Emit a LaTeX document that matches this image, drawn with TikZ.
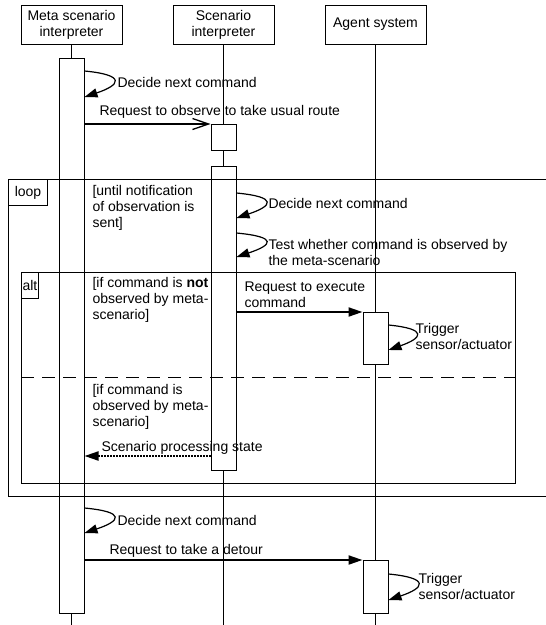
\documentclass[tikz,border=0pt]{standalone}
\usepackage{fontspec}
\setmainfont{Liberation Sans}
\usetikzlibrary{arrows.meta,positioning}

\begin{document}
\begin{tikzpicture}[x=1pt,y=-1pt,line width=1pt,font=\fontsize{14}{16}\selectfont]
\tikzstyle{head}=[draw,fill=white,minimum width=101pt,minimum height=39pt,align=center,inner sep=0]
\tikzstyle{act box}=[draw,fill=white,minimum width=25pt,inner sep=0,anchor=north]
\tikzstyle{frame}=[draw,inner sep=0,anchor=north west]
\tikzstyle{tab}=[draw,inner sep=0,anchor=north west,minimum height=26pt]
\tikzstyle{msg}=[line width=2pt,-{Triangle[length=14pt,width=9pt]}]
\tikzstyle{open msg}=[line width=2pt,-{Straight Barb[length=16pt,width=11pt,line width=1.3pt]}]
\tikzstyle{reply}=[line width=2pt,densely dotted,-{Triangle[length=14pt,width=9pt]}]
\tikzstyle{self}=[line width=1.2pt,-{Triangle[length=13pt,width=9pt]}]
\tikzstyle{txt}=[inner sep=0,anchor=west,align=left]

\useasboundingbox (0,0) rectangle (546,625);

% heads
\node[head] (meta) at (71.5,24.5) {Meta scenario\\interpreter};
\node[head] (scen) at (223.5,24.5) {Scenario\\interpreter};
\node[head] (agent) at (375.5,24.5) {Agent system};

% lifelines
\coordinate (metaend) at (71.5,630);
\coordinate (scenend) at (223.5,630);
\coordinate (agentend) at (375.5,630);
\draw (meta.south) -- (metaend);
\draw (scen.south) -- (scenend);
\draw (agent.south) -- (agentend);

% activations
\node[act box,minimum height=555pt] (mact) at (71.5,58) {};
\node[act box,minimum height=26pt] (sact1) at (223.5,124) {};
\node[act box,minimum height=304pt] (sact2) at (223.5,166) {};
\node[act box,minimum height=52pt] (aact1) at (375.5,312) {};
\node[act box,minimum height=53pt] (aact2) at (375.5,560) {};

% combined fragments
\node[frame,minimum width=560pt,minimum height=317pt] (loop) at (8,179) {};
\node[tab,minimum width=39pt] (looptab) at (8,179) {loop};
\node[frame,minimum width=494pt,minimum height=211pt] (alt) at (21,272) {};
\node[tab,minimum width=17pt] (alttab) at (21,272) {alt};
\draw[dash pattern=on 13pt off 8pt] (alt.west |- 0,377) -- (alt.east |- 0,377);

\node[txt] (guard1) at (92,208) {[until notification\\of observation is\\sent]};
\node[txt] (guard2) at (92,300) {[if command is \textbf{not}\\observed by meta-\\scenario]};
\node[txt] (guard3) at (92,407) {[if command is\\observed by meta-\\scenario]};

% messages
\coordinate (d1a) at (mact.east |- 0,71);
\coordinate (d1b) at (mact.east |- 0,97);
\draw[self] (d1a) .. controls +(42,4) and +(36,-12) .. (d1b);
\node[txt] (d1) at (117,82) {Decide next command};

\draw[open msg] (mact.east |- sact1.north) -- (sact1.north west);
\node[txt] (req1) at (99,112) {Request to observe to take usual route};

\coordinate (d2a) at (sact2.east |- 0,193);
\coordinate (d2b) at (sact2.east |- 0,218);
\draw[self] (d2a) .. controls +(42,4) and +(36,-12) .. (d2b);
\node[txt] (d2) at (268,203) {Decide next command};

\coordinate (t1a) at (sact2.east |- 0,233);
\coordinate (t1b) at (sact2.east |- 0,257);
\draw[self] (t1a) .. controls +(42,4) and +(36,-12) .. (t1b);
\node[txt] (t1) at (268,252) {Test whether command is observed by\\the meta-scenario};

\draw[msg] (sact2.east |- aact1.north) -- (aact1.north west);
\node[txt] (exec) at (244,295) {Request to execute\\command};

\coordinate (tr1a) at (aact1.east |- 0,325);
\coordinate (tr1b) at (aact1.east |- 0,350);
\draw[self] (tr1a) .. controls +(40,4) and +(34,-12) .. (tr1b);
\node[txt] (tr1) at (415,336) {Trigger\\sensor/actuator};

\coordinate (ret) at (sact2.west |- 0,456);
\draw[reply] (ret) -- (mact.east |- ret);
\node[txt] (state) at (101,448) {Scenario processing state};

\coordinate (d3a) at (mact.east |- 0,508);
\coordinate (d3b) at (mact.east |- 0,533);
\draw[self] (d3a) .. controls +(42,4) and +(36,-12) .. (d3b);
\node[txt] (d3) at (117,520) {Decide next command};

\draw[msg] (mact.east |- aact2.north) -- (aact2.north west);
\node[txt] (detour) at (109,551) {Request to take a detour};

\coordinate (tr2a) at (aact2.east |- 0,574);
\coordinate (tr2b) at (aact2.east |- 0,600);
\draw[self] (tr2a) .. controls +(42,4) and +(36,-12) .. (tr2b);
\node[txt] (tr2) at (418,586) {Trigger\\sensor/actuator};

\end{tikzpicture}
\end{document}
